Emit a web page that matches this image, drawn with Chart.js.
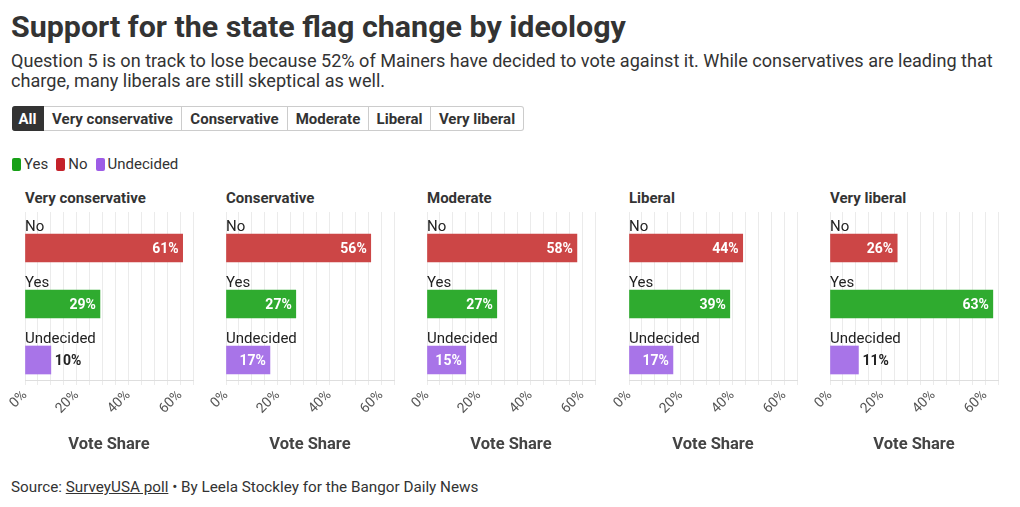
<!DOCTYPE html>
<html><head><meta charset="utf-8">
<script src="https://cdn.jsdelivr.net/npm/chart.js@4.4.0/dist/chart.umd.min.js"></script>
<style>
body{margin:0;width:1020px;height:507px;background:#fff;font-family:Roboto,sans-serif;color:#333;position:relative;overflow:hidden}
#title{position:absolute;left:11px;top:9px;font-size:30.4px;font-weight:700;color:#333;white-space:nowrap;line-height:36px}
#sub{position:absolute;left:11px;top:51px;font-size:18.1px;line-height:20px;color:#333;white-space:nowrap}
#btns{position:absolute;left:12px;top:106px;display:flex;height:25px}
.btn{box-sizing:border-box;height:25px;border:1px solid #ccc;border-left:none;font-weight:700;font-size:15px;display:flex;align-items:center;justify-content:center;color:#333}
.btn.on{background:#333;color:#fff;border-color:#333;border-radius:3px 0 0 3px}
.btn.last{border-radius:0 3px 3px 0}
#legend{position:absolute;left:12px;top:155px;display:flex;align-items:center;font-size:15px;color:#333}
.sw{width:9px;height:13px;border-radius:2px;margin-right:3px;display:inline-block}
.li{display:flex;align-items:center;margin-right:8px}
.ptitle{position:absolute;top:189px;font-size:15px;font-weight:700;color:#333;white-space:nowrap}
canvas.pc{position:absolute;top:205px}
#src{position:absolute;left:11px;top:478px;font-size:15.25px;color:#333;white-space:nowrap}
#src u{text-decoration:underline}
</style></head>
<body>
<div id="title">Support for the state flag change by ideology</div>
<div id="sub">Question 5 is on track to lose because 52% of Mainers have decided to vote against it. While conservatives are leading that<br>charge, many liberals are still skeptical as well.</div>
<div id="btns"></div>
<div id="legend"></div>
<div id="panels"></div>
<div id="src">Source: <u>SurveyUSA poll</u> • By Leela Stockley for the Bangor Daily News</div>
<script>
// ---- data ----
const ideologies = ["Very conservative","Conservative","Moderate","Liberal","Very liberal"];
const answers = ["No","Yes","Undecided"];
const noValues = [61,56,58,44,26];
const yesValues = [29,27,27,39,63];
const undecidedValues = [10,17,15,17,11];
const tickValues = [0,20,40,60];
const filterButtons = ["All","Very conservative","Conservative","Moderate","Liberal","Very liberal"];
const legendItems = ["Yes","No","Undecided"];

// ---- style ----
const barColors = {No:"#cc4646",Yes:"#2fab2f",Undecided:"#a874e8"};
const legendColors = {Yes:"#17a017",No:"#c4222a",Undecided:"#9d5ce6"};
const btnWidths = [32,138,106,81,62,93];
const panelLeft = [25,226,427,629,830];
const PLOT_W = 168, PAD_L = 16, PAD_R = 14, PAD_T = 7, BAND = 56;
const Y_MIN = -36/BAND, Y_MAX = 2+20/BAND;

const bw = document.getElementById('btns');
filterButtons.forEach((b,i)=>{
  const d=document.createElement('div');
  d.className='btn'+(i===0?' on':'')+(i===filterButtons.length-1?' last':'');
  d.style.width=btnWidths[i]+'px';
  d.textContent=b; bw.appendChild(d);
});
const lg=document.getElementById('legend');
legendItems.forEach(k=>{
  const s=document.createElement('span');s.className='li';
  s.innerHTML='<span class="sw" style="background:'+legendColors[k]+'"></span>'+k;
  lg.appendChild(s);
});

const labelPlugin={id:'barLabels',afterDatasetsDraw(chart){
  const {ctx,chartArea}=chart;
  const meta=chart.getDatasetMeta(0);
  const ds=chart.data.datasets[0].data;
  ctx.save();
  meta.data.forEach((bar,i)=>{
    const h=bar.height||28;
    const top=bar.y-h/2;
    ctx.font='15px Roboto';ctx.fillStyle='#222';ctx.textAlign='left';ctx.textBaseline='alphabetic';
    ctx.fillText(chart.data.labels[i],chartArea.left,top-3);
    const txt=ds[i].x+'%';
    ctx.font='bold 14px Roboto';
    const w=ctx.measureText(txt).width;
    const len=bar.x-bar.base;
    ctx.textBaseline='middle';
    if(len>=w+10){ctx.fillStyle='#fff';ctx.textAlign='right';ctx.fillText(txt,bar.x-4,bar.y+1);}
    else{ctx.fillStyle='#222';ctx.textAlign='left';ctx.fillText(txt,bar.x+4,bar.y+1);}
  });
  ctx.restore();
}};

const panels=document.getElementById('panels');
ideologies.forEach((name,p)=>{
  const t=document.createElement('div');t.className='ptitle';t.style.left=panelLeft[p]+'px';t.textContent=name;panels.appendChild(t);
  const c=document.createElement('canvas');c.className='pc';
  c.width=PAD_L+PLOT_W+PAD_R;c.height=255;
  c.style.left=(panelLeft[p]-PAD_L)+'px';
  panels.appendChild(c);
  const vals=[noValues[p],yesValues[p],undecidedValues[p]];
  new Chart(c,{
    type:'bar',
    data:{labels:answers,datasets:[{
      data:vals.map((v,i)=>({x:v,y:i})),
      backgroundColor:answers.map(a=>barColors[a]),
      barThickness:28,borderWidth:0
    }]},
    options:{
      indexAxis:'y',responsive:false,animation:false,events:[],
      layout:{padding:{left:PAD_L,right:PAD_R,top:PAD_T,bottom:0}},
      plugins:{legend:{display:false},tooltip:{enabled:false}},
      scales:{
        x:{type:'linear',min:0,max:65,offset:false,
          grid:{color:'#ebebeb',drawTicks:true,tickLength:5,tickColor:'#ebebeb',offset:false},
          border:{display:true,color:'#dedede'},
          ticks:{stepSize:5,autoSkip:false,minRotation:45,maxRotation:45,padding:2,color:'#555',
            font:{family:'Roboto',size:14},
            callback:v=>tickValues.includes(v)?v+'%':''},
          title:{display:true,text:'Vote Share',color:'#444',font:{family:'Roboto',size:16.5,weight:'bold'},padding:{top:0,bottom:5}},
          afterFit:s=>{s.height=80;s.paddingLeft=0;s.paddingRight=0;s.paddingTop=0;s.paddingBottom=0;}
        },
        y:{type:'linear',reverse:true,display:false,offset:false,grid:{offset:false},bounds:'data',min:Y_MIN,max:Y_MAX}
      }
    },
    plugins:[labelPlugin]
  });
});
</script>
</body></html>
